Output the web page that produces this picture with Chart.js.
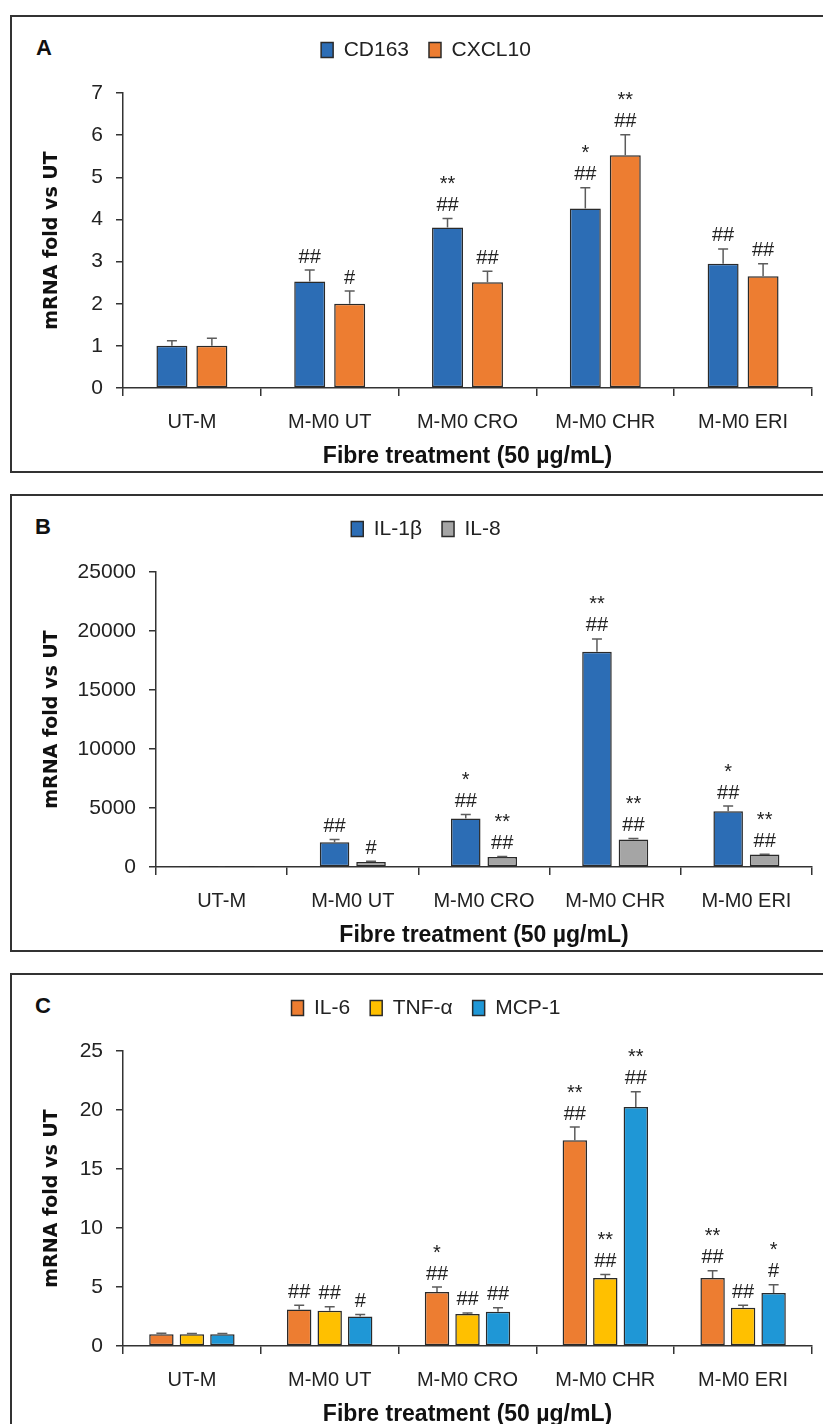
<!DOCTYPE html>
<html><head><meta charset="utf-8">
<script src="https://cdn.jsdelivr.net/npm/chart.js@4.4.0/dist/chart.umd.min.js"></script>
<style>
html,body{margin:0;padding:0;background:#fff;width:823px;height:1424px;overflow:hidden;position:relative;}
.panel{position:absolute;left:10px;width:840px;border:2px solid #333;box-sizing:border-box;}
.lab{position:absolute;font:bold 22px "Liberation Sans",Arial,sans-serif;color:#111;line-height:24px;}
.cw{position:absolute;left:12px;width:811px;height:454px;}
</style></head><body>
<div class="panel" style="top:15px;height:458px"></div>
<div class="panel" style="top:494px;height:458px"></div>
<div class="panel" style="top:973px;height:470px"></div>
<div class="lab" style="left:36px;top:36px">A</div>
<div class="lab" style="left:35px;top:515px">B</div>
<div class="lab" style="left:35px;top:994px">C</div>
<div class="cw" style="top:17px"><canvas id="cA" width="811" height="454"></canvas></div>
<div class="cw" style="top:496px"><canvas id="cB" width="811" height="454"></canvas></div>
<div class="cw" style="top:975px"><canvas id="cC" width="811" height="454"></canvas></div>
<script>
const categories = ['UT-M', 'M-M0 UT', 'M-M0 CRO', 'M-M0 CHR', 'M-M0 ERI'];
const xTitle = 'Fibre treatment (50 µg/mL)';
const yTitle = 'mRNA fold vs UT';

// Panel A
const ticksA = [0, 1, 2, 3, 4, 5, 6, 7];
const cd163 = [1.00, 2.53, 3.81, 4.26, 2.95];
const cd163Err = [0.12, 0.27, 0.21, 0.49, 0.35];
const cd163Sig = [[], ['##'], ['**', '##'], ['*', '##'], ['##']];
const cxcl10 = [1.00, 2.00, 2.51, 5.52, 2.65];
const cxcl10Err = [0.18, 0.30, 0.26, 0.49, 0.30];
const cxcl10Sig = [[], ['#'], ['##'], ['**', '##'], ['##']];

// Panel B
const ticksB = [0, 5000, 10000, 15000, 20000, 25000];
const il1b = [1, 2100, 4110, 18250, 4730];
const il1bErr = [0, 220, 340, 1080, 430];
const il1bSig = [[], ['##'], ['*', '##'], ['**', '##'], ['*', '##']];
const il8 = [1, 425, 850, 2320, 1050];
const il8Err = [0, 55, 30, 90, 30];
const il8Sig = [[], ['#'], ['**', '##'], ['**', '##'], ['**', '##']];

// Panel C
const ticksC = [0, 5, 10, 15, 20, 25];
const il6 = [1.00, 3.10, 4.58, 17.43, 5.76];
const il6Err = [0.08, 0.35, 0.42, 1.13, 0.62];
const il6Sig = [[], ['##'], ['*', '##'], ['**', '##'], ['**', '##']];
const tnfa = [1.00, 2.99, 2.71, 5.76, 3.25];
const tnfaErr = [0.06, 0.34, 0.09, 0.29, 0.20];
const tnfaSig = [[], ['##'], ['##'], ['**', '##'], ['##']];
const mcp1 = [1.00, 2.49, 2.91, 20.25, 4.49];
const mcp1Err = [0.06, 0.19, 0.34, 1.30, 0.71];
const mcp1Sig = [[], ['#'], ['##'], ['**', '##'], ['*', '#']];

const FONT = '"Liberation Sans", Arial, sans-serif';
const DARK = '#2a2a2a';

const errorBarsPlugin = {
  id: 'errorBars',
  afterDatasetsDraw(chart) {
    const ctx = chart.ctx;
    const ys = chart.scales.y;
    chart.data.datasets.forEach((ds, i) => {
      const meta = chart.getDatasetMeta(i);
      meta.data.forEach((bar, j) => {
        const v = ds.data[j], e = ds.errors[j];
        const yTop = ys.getPixelForValue(v + e);
        ctx.save();
        ctx.strokeStyle = '#5c5c5c';
        ctx.lineWidth = 1.5;
        if (e > 0) {
          ctx.beginPath();
          ctx.moveTo(bar.x, bar.y);
          ctx.lineTo(bar.x, yTop);
          ctx.moveTo(bar.x - 5, yTop);
          ctx.lineTo(bar.x + 5, yTop);
          ctx.stroke();
        }
        const sig = ds.sig[j];
        ctx.fillStyle = '#222';
        ctx.font = '20px ' + FONT;
        ctx.textAlign = 'center';
        ctx.textBaseline = 'middle';
        for (let k = 0; k < sig.length; k++) {
          ctx.fillText(sig[sig.length - 1 - k], bar.x, yTop - 13 - k * 21);
        }
        ctx.restore();
      });
    });
  }
};

function ds(label, data, errors, sig, color, catPct, barPct) {
  return {
    label, data, errors, sig,
    xAxisID: 'x', yAxisID: 'y',
    backgroundColor: color,
    borderColor: DARK,
    borderWidth: 1.5,
    borderSkipped: false,
    categoryPercentage: catPct,
    barPercentage: barPct
  };
}

function makeChart(id, datasets, tickVals, yAxisWidth) {
  const maxV = tickVals[tickVals.length - 1];
  return new Chart(document.getElementById(id), {
    type: 'bar',
    data: { labels: categories, datasets },
    plugins: [errorBarsPlugin],
    options: {
      responsive: false,
      animation: false,
      events: [],
      layout: { padding: { left: 28, right: 11, top: 2.5, bottom: 0 } },
      plugins: {
        tooltip: { enabled: false },
        legend: {
          position: 'top',
          align: 'center',
          labels: {
            boxWidth: 12, boxHeight: 15, padding: 20,
            color: '#222',
            font: { family: FONT, size: 21 }
          }
        }
      },
      scales: {
        x: {
          type: 'category',
          position: 'bottom',
          grid: { display: true, drawOnChartArea: false, drawTicks: true, tickLength: 8, offset: true, color: '#333', lineWidth: 1.5 },
          border: { display: true, color: '#333', width: 1.5 },
          ticks: { color: '#222', font: { family: FONT, size: 20 }, padding: 14, maxRotation: 0, autoSkip: false },
          title: { display: true, text: xTitle, color: '#111', font: { family: FONT, size: 23, weight: 'bold' }, padding: { top: 0, bottom: 1 } },
          afterFit(s) { s.height = 83; }
        },
        xTop: {
          type: 'category',
          position: 'top',
          display: true,
          grid: { display: false, drawTicks: false },
          border: { display: false },
          ticks: { display: false },
          afterFit(s) { s.height = 22.5; }
        },
        y: {
          type: 'linear',
          position: 'left',
          min: 0, max: maxV,
          afterBuildTicks(s) { s.ticks = tickVals.map(v => ({ value: v })); },
          grid: { display: true, drawOnChartArea: false, drawTicks: true, tickLength: 7, color: '#333', lineWidth: 1.5 },
          border: { display: true, color: '#333', width: 1.5 },
          ticks: { color: '#222', font: { family: FONT, size: 21 }, padding: 13, callback: v => String(v) },
          title: { display: true, text: yTitle, color: '#111', font: { family: '"DejaVu Sans", Verdana, sans-serif', size: 19, weight: 'bold' }, padding: { top: 1, bottom: 0 } },
          afterFit(s) { s.width = yAxisWidth; }
        }
      }
    }
  });
}

makeChart('cA', [
  ds('CD163', cd163, cd163Err, cd163Sig, '#2c6db5', 0.58, 0.775),
  ds('CXCL10', cxcl10, cxcl10Err, cxcl10Sig, '#ed7d31', 0.58, 0.775)
], ticksA, 83);

makeChart('cB', [
  ds('IL-1β', il1b, il1bErr, il1bSig, '#2c6db5', 0.556, 0.81),
  ds('IL-8', il8, il8Err, il8Sig, '#a5a5a5', 0.556, 0.81)
], ticksB, 116);

makeChart('cC', [
  ds('IL-6', il6, il6Err, il6Sig, '#ed7d31', 0.664, 0.80),
  ds('TNF-α', tnfa, tnfaErr, tnfaSig, '#ffc000', 0.664, 0.80),
  ds('MCP-1', mcp1, mcp1Err, mcp1Sig, '#1f97d6', 0.664, 0.80)
], ticksC, 83);
</script>
</body></html>
